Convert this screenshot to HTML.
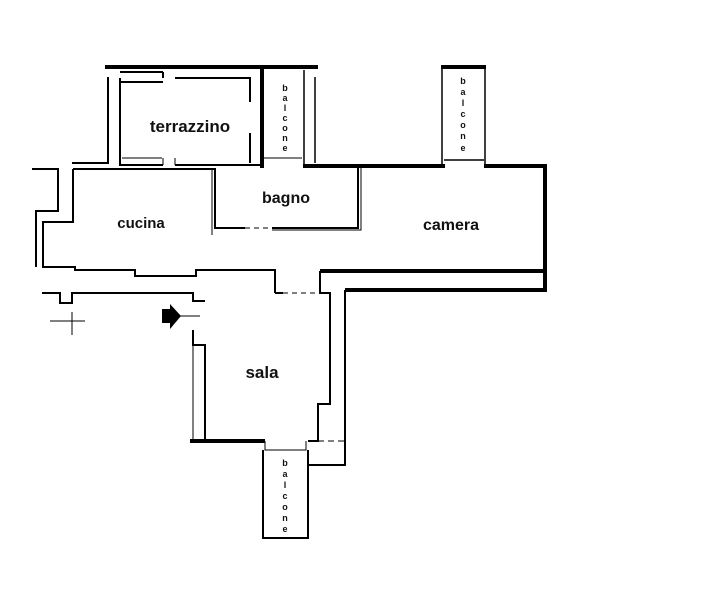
<!DOCTYPE html>
<html><head><meta charset="utf-8"><style>
html,body{margin:0;padding:0;background:#fff;width:713px;height:612px;overflow:hidden}
svg{display:block}
text{font-family:"Liberation Sans",sans-serif;font-weight:bold;fill:#111}
.t{font-size:9px;fill:#333}
</style></head><body>
<svg width="713" height="612" viewBox="0 0 713 612">
<g fill="none" stroke="#000" stroke-width="2">
<path d="M105 67H318" stroke-width="4"/>
<path d="M262 67V168" stroke-width="4"/>
<path d="M303 166H445M484 166H545V292M320 271H545M345 290H545" stroke-width="4"/>
<path d="M441 67H486" stroke-width="4"/>
<path d="M190 441H265" stroke-width="4"/>
<path d="M108 77V163H72"/>
<path d="M120 78V165H163M120 72H163M120 82H163M163 72V78"/>
<path d="M175 78H250V102M250 133V163M175 165H262" stroke-width="2"/>
<path d="M175 158V165M163 158V165M122 158H162" stroke-width="1"/>
<path d="M304 70V165M315 77V163" stroke-width="1.5"/>
<path d="M264 158H302" stroke-width="1"/>
<path d="M442 67V165M485 67V165M444 160H484" stroke-width="1.5"/>
<path d="M215 168V228H245M272 228H358V168" />
<path d="M212 168V235M361 168V230H272" stroke-width="1"/>
<path d="M245 228H272" stroke-dasharray="5 4" stroke-width="1"/>
<path d="M73 169H215M73 169V222H43V267H75V270H135V276H196V270H275V293"/>
<path d="M32 169H58V211H36V267"/>
<path d="M320 271V290"/>
<path d="M42 293H60V303H72V293H193V301H205"/>
<path d="M283 293H275M320 290V293H330V404H318V441H308"/>
<path d="M283 293H318" stroke-dasharray="5 4" stroke-width="1"/>
<path d="M193 330V345H205V441"/>
<path d="M193 345V441" stroke-width="1"/>
<path d="M345 290V465H308"/>
<path d="M308 441H345" stroke-dasharray="6 4" stroke-width="1"/>
<path d="M263 450V538H308V450" stroke-width="2"/>
<path d="M265 441V450H306V441" stroke-width="1"/>
<path d="M72 312V335M50 321H85M180 316H200" stroke-width="1"/>
</g>
<path d="M162 309H170V304L181 316L170 329V323H162Z" fill="#000"/>
<text x="190" y="132" font-size="17" text-anchor="middle">terrazzino</text>
<text x="286" y="203" font-size="16" text-anchor="middle">bagno</text>
<text x="141" y="228" font-size="15" text-anchor="middle">cucina</text>
<text x="451" y="230" font-size="16" text-anchor="middle">camera</text>
<text x="262" y="378" font-size="17" text-anchor="middle">sala</text>
<g class="t" text-anchor="middle">
<text x="285" y="91">b</text><text x="285" y="101">a</text><text x="285" y="111">l</text><text x="285" y="121">c</text><text x="285" y="131">o</text><text x="285" y="141">n</text><text x="285" y="151">e</text>
<text x="463" y="84">b</text><text x="463" y="95">a</text><text x="463" y="106">l</text><text x="463" y="117">c</text><text x="463" y="128">o</text><text x="463" y="139">n</text><text x="463" y="151">e</text>
<text x="285" y="466">b</text><text x="285" y="477">a</text><text x="285" y="488">l</text><text x="285" y="499">c</text><text x="285" y="510">o</text><text x="285" y="521">n</text><text x="285" y="532">e</text>
</g>
</svg>
</body></html>
